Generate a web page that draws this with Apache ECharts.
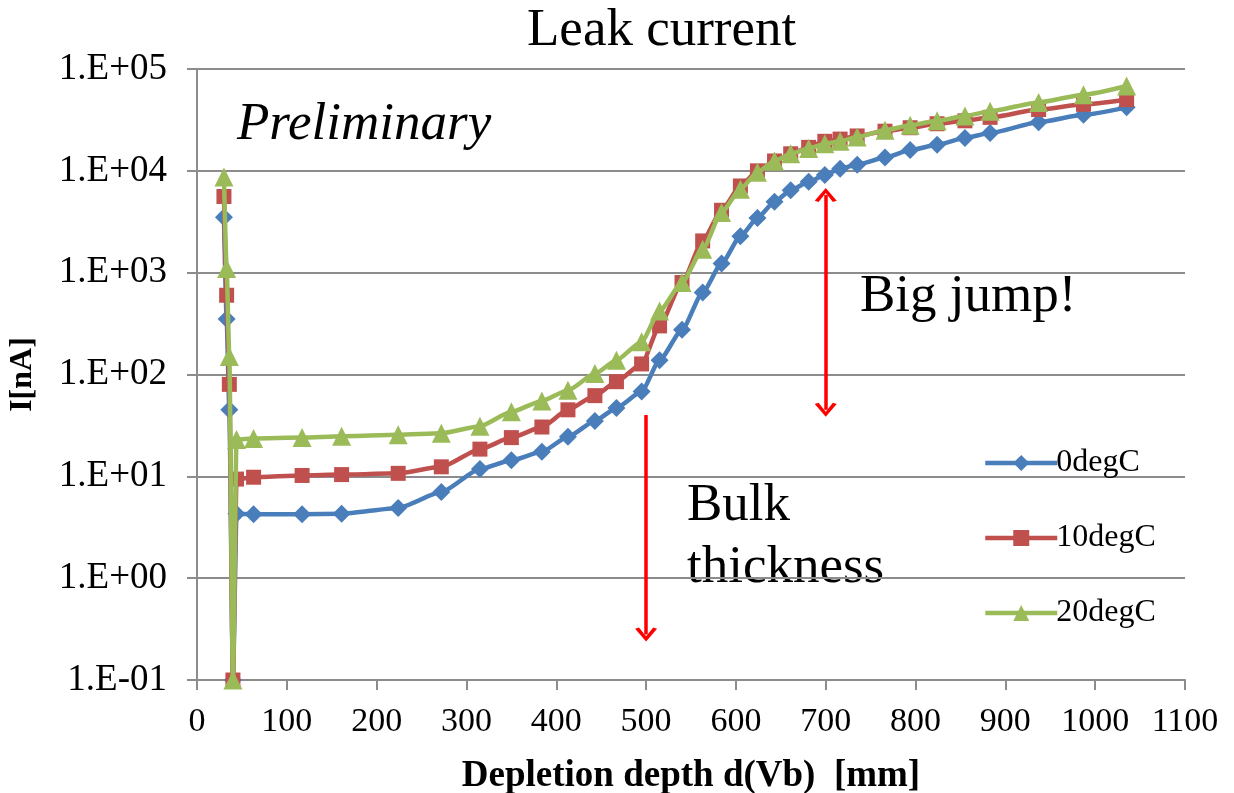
<!DOCTYPE html>
<html>
<head>
<meta charset="utf-8">
<script src="https://cdn.jsdelivr.net/npm/echarts@6/dist/echarts.min.js"></script>
<style>
  html, body { margin: 0; padding: 0; background: #fff; overflow: hidden; }
  #chart { width: 1234px; height: 793px; }
</style>
</head>
<body>
<div id="chart"></div>
<script>
// Depletion depth [mm] shared by all temperature runs
const depth = [30, 33, 36, 40, 44, 63, 117, 161, 224, 272, 315, 350, 384, 413, 443, 467, 495, 515, 540, 563, 584, 605, 624, 643, 661, 681, 699, 716, 735, 766, 794, 824, 855, 883, 937, 987, 1035];

// Leak current [nA] per temperature
const current0 = [3500, 350, 45, 0.1, 4.3, 4.25, 4.25, 4.3, 4.9, 7.0, 11.8, 14.4, 17.4, 24.5, 35, 47, 68, 138, 275, 640, 1230, 2280, 3450, 4970, 6450, 7800, 9100, 10500, 11500, 13500, 16000, 18000, 21000, 23500, 30000, 35500, 42000];
const current10 = [5600, 600, 80, 0.1, 9.4, 9.8, 10.2, 10.4, 10.7, 12.4, 18.5, 24, 30.5, 45, 62, 85, 127, 300, 800, 2050, 4100, 7100, 10000, 12500, 14700, 17000, 19500, 20500, 22000, 24500, 26500, 29000, 31000, 33500, 40000, 45000, 50000];
const current20 = [8700, 1100, 150, 0.1, 23, 23.5, 24, 24.8, 25.6, 26.5, 31, 43, 55, 70, 102, 138, 210, 420, 800, 1700, 3900, 6600, 9700, 12500, 14700, 16600, 18500, 19500, 21500, 25000, 28000, 31000, 34500, 38500, 47000, 56000, 68000];

const seriesNames = ['0degC', '10degC', '20degC'];

// Annotation arrows, in data coordinates [depth, current]
const jumpArrow = [[700, 5800], [700, 45]];
const bulkArrow = [[500, 40], [500, 0.28]];

const SERIF = '"Liberation Serif", "DejaVu Serif", serif';
const GRID_GRAY = '#8c8c8c';
const ARROW_RED = '#ff0000';
// open arrow head, pointing up in its own frame
const chevron = 'path://M0,20 L10,0 L20,20 L16.5,22 L10,8 L3.5,22 Z';

function pairs(xs, ys) {
  return xs.map((x, i) => [x, ys[i]]);
}

function expLabel(v) {
  const e = Math.round(Math.log10(v));
  const sign = e < 0 ? '-' : '+';
  const a = Math.abs(e);
  return '1.E' + sign + (a < 10 ? '0' : '') + a;
}

function curve(name, values, color, symbol, size, z) {
  return {
    name: name,
    type: 'line',
    data: pairs(depth, values),
    smooth: 0.2,
    smoothMonotone: 'x',
    symbol: symbol,
    symbolSize: size,
    z: z,
    lineStyle: { color: color, width: 4.5 },
    itemStyle: { color: color },
    emphasis: { disabled: true },
    animation: false
  };
}

const chart = echarts.init(document.getElementById('chart'), null, { renderer: 'canvas', width: 1234, height: 793 });

const blue = curve(seriesNames[0], current0, '#4a7ebb', 'diamond', 18, 2);
const red = curve(seriesNames[1], current10, '#c0504d', 'rect', 15, 3);
const green = curve(seriesNames[2], current20, '#9bbb59', 'triangle', 19, 4);

// Red arrows drawn as mark lines in the axes' data space
blue.markLine = {
  silent: true,
  animation: false,
  label: { show: false },
  lineStyle: { color: ARROW_RED, width: 3.5, type: 'solid' },
  symbolSize: [22, 14],
  data: [
    [
      { coord: jumpArrow[0], symbol: chevron },
      { coord: jumpArrow[1], symbol: chevron }
    ],
    [
      { coord: bulkArrow[0], symbol: 'none' },
      { coord: bulkArrow[1], symbol: chevron }
    ]
  ]
};

chart.setOption({
  animation: false,
  backgroundColor: '#ffffff',
  title: {
    text: 'Leak current',
    left: 522,
    top: 0,
    textStyle: { fontFamily: SERIF, fontSize: 53, fontWeight: 'normal', color: '#000' }
  },
  grid: { left: 197, top: 69, width: 988, height: 611, containLabel: false, outerBoundsMode: 'none' },
  legend: {
    orient: 'vertical',
    left: 978,
    top: 436,
    itemWidth: 72,
    itemHeight: 20,
    itemGap: 31,
    data: seriesNames,
    lineStyle: { width: 4.5 },
    textStyle: { fontFamily: SERIF, fontSize: 32, color: '#000', lineHeight: 44, padding: [0, 0, 0, -6] }
  },
  xAxis: {
    type: 'value',
    min: 0,
    max: 1100,
    interval: 100,
    name: 'Depletion depth d(Vb)  [mm]',
    nameLocation: 'middle',
    nameGap: 78,
    nameTextStyle: { fontFamily: SERIF, fontSize: 37, fontWeight: 'bold', color: '#000' },
    axisLine: { show: true, lineStyle: { color: GRID_GRAY, width: 2 } },
    axisTick: { show: true, inside: false, length: 10, lineStyle: { color: GRID_GRAY, width: 2 } },
    axisLabel: { fontFamily: SERIF, fontSize: 34, color: '#000', margin: 25, formatter: (v) => String(v) },
    splitLine: { show: false }
  },
  yAxis: {
    type: 'log',
    logBase: 10,
    min: 0.1,
    max: 100000,
    name: 'I[nA]',
    nameLocation: 'middle',
    nameRotate: 90,
    nameGap: 158,
    nameTextStyle: { fontFamily: SERIF, fontSize: 32, fontWeight: 'bold', color: '#000' },
    axisLine: { show: true, lineStyle: { color: GRID_GRAY, width: 2 } },
    axisTick: { show: true, inside: false, length: 10, lineStyle: { color: GRID_GRAY, width: 2 } },
    axisLabel: { fontFamily: SERIF, fontSize: 37, color: '#000', margin: 30, formatter: expLabel },
    splitLine: { show: true, lineStyle: { color: GRID_GRAY, width: 2 } }
  },
  graphic: [
    {
      type: 'text', left: 237, top: 99, silent: true,
      style: { text: 'Preliminary', fontFamily: SERIF, fontSize: 53, fontStyle: 'italic', fill: '#000' }
    },
    {
      type: 'text', left: 860, top: 271, silent: true,
      style: { text: 'Big jump!', fontFamily: SERIF, fontSize: 53, fill: '#000' }
    },
    {
      type: 'text', left: 687, top: 475, silent: true,
      style: { text: 'Bulk\nthickness', fontFamily: SERIF, fontSize: 53, lineHeight: 62, fill: '#000' }
    }
  ],
  series: [blue, red, green]
});
</script>
</body>
</html>
